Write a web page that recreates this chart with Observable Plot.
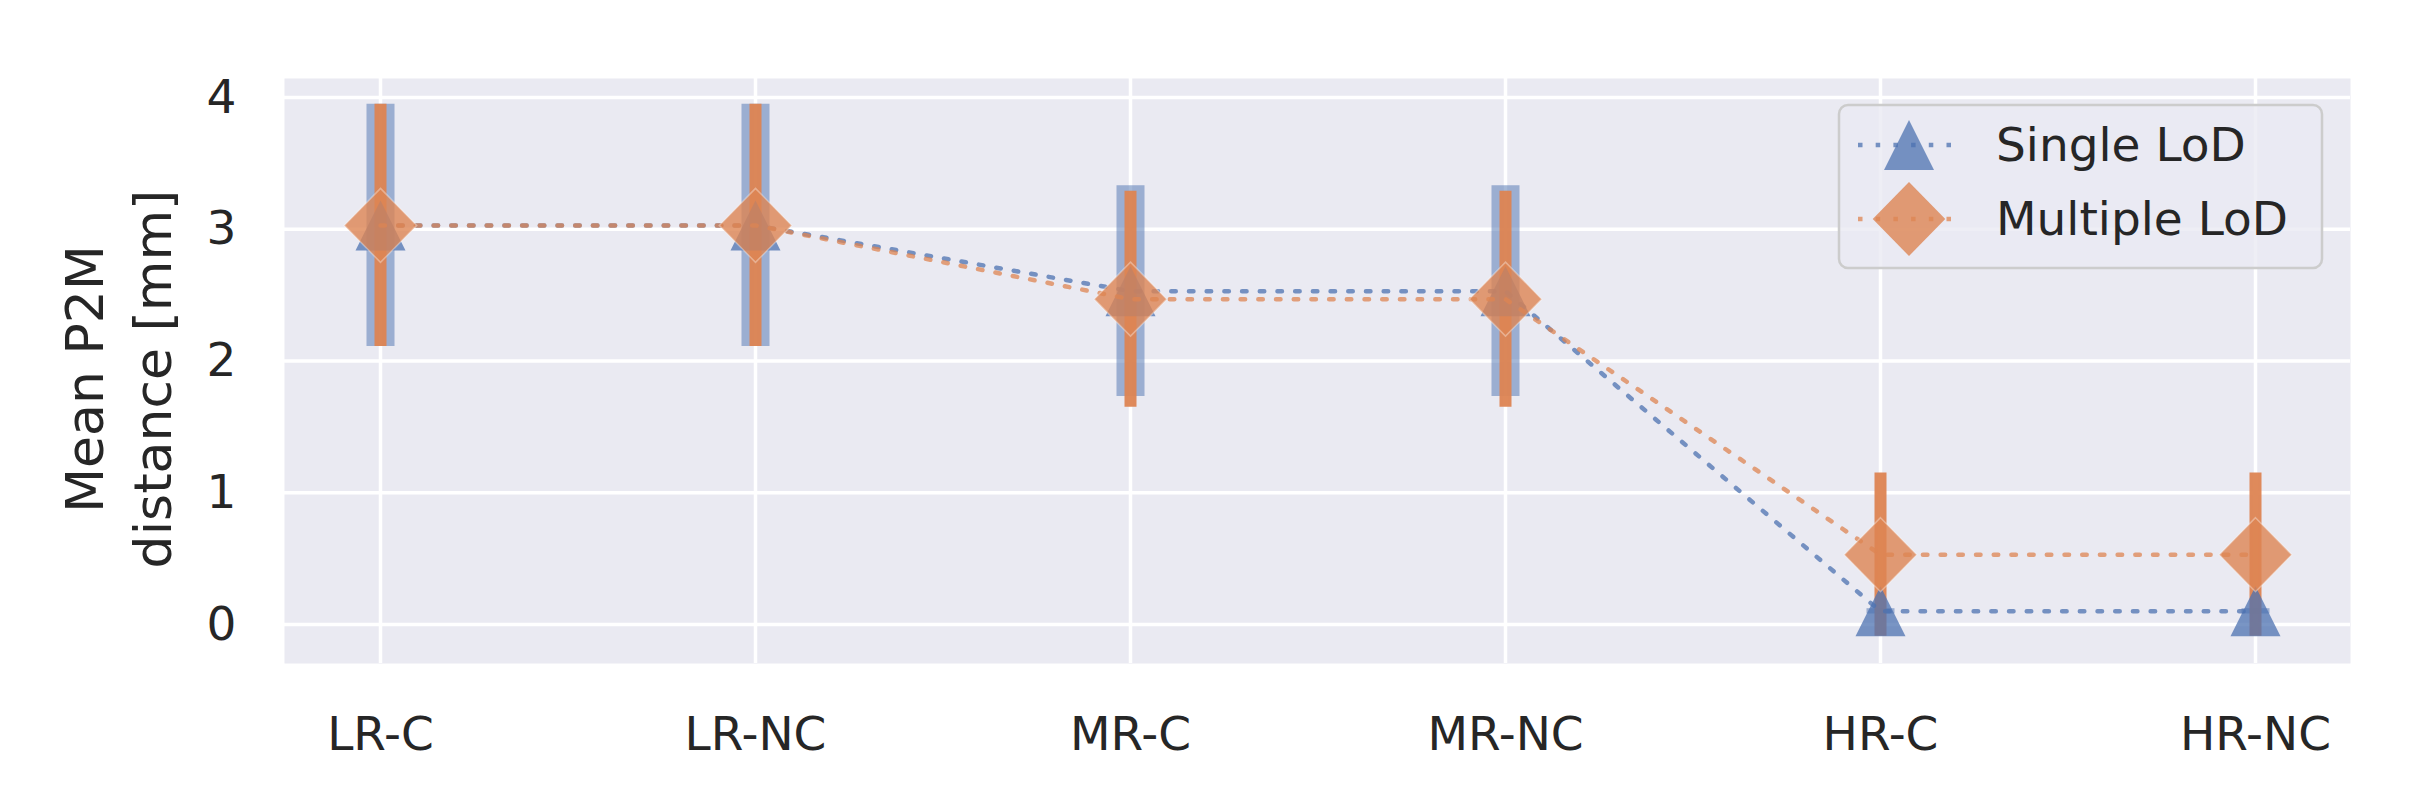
<!DOCTYPE html>
<html>
<head>
<meta charset="utf-8">
<script src="https://cdn.jsdelivr.net/npm/d3@7"></script>
<script src="https://cdn.jsdelivr.net/npm/@observablehq/plot@0.6"></script>
<style>
  body { margin: 0; background: #ffffff; }
  #chart svg { display: block; }
</style>
</head>
<body>
<div id="chart"></div>
<script>
// ---- data ----
const categories = ["LR-C", "LR-NC", "MR-C", "MR-NC", "HR-C", "HR-NC"];
const singleMean   = [3.03, 3.03, 2.53, 2.53, 0.10, 0.10];
const singleErr    = [0.92, 0.92, 0.80, 0.80, 0.02, 0.02];
const multipleMean = [3.03, 3.03, 2.47, 2.47, 0.53, 0.53];
const multipleErr  = [0.92, 0.92, 0.82, 0.82, 0.62, 0.62];
const yTicks = [0, 1, 2, 3, 4];
const seriesNames = ["Single LoD", "Multiple LoD"];
const yLabel = "Mean P2M\ndistance [mm]";

const colors = ["#4C72B0", "#DD8452"];

const single = categories.map((c, i) => ({cat: c, mean: singleMean[i], lo: singleMean[i] - singleErr[i], hi: singleMean[i] + singleErr[i]}));
const multiple = categories.map((c, i) => ({cat: c, mean: multipleMean[i], lo: multipleMean[i] - multipleErr[i], hi: multipleMean[i] + multipleErr[i]}));

// matplotlib-like markers
const triangle = {draw(ctx, size) { const r = Math.sqrt(size / Math.PI); ctx.moveTo(0, -r); ctx.lineTo(r, r); ctx.lineTo(-r, r); ctx.closePath(); }};
const diamond = {draw(ctx, size) { const r = Math.sqrt(size / Math.PI); ctx.moveTo(0, -r); ctx.lineTo(r * 0.98, 0); ctx.lineTo(0, r); ctx.lineTo(-r * 0.98, 0); ctx.closePath(); }};

const W = 2416, H = 808;
const mL = 284, mR = 66, mT = 78, mB = 145;
const dash = "4.5 13.2";

const svg = Plot.plot({
  width: W,
  height: H,
  marginLeft: mL,
  marginRight: mR,
  marginTop: mT,
  marginBottom: mB,
  style: {fontFamily: "DejaVu Sans", background: "#ffffff", color: "#262626", overflow: "visible"},
  x: {type: "point", domain: categories, padding: 0.25, align: 0.5, axis: null},
  y: {domain: [-0.296, 4.145], axis: null},
  marks: [
    Plot.frame({fill: "#EAEAF2", stroke: null}),
    Plot.gridY(yTicks, {stroke: "#ffffff", strokeOpacity: 1, strokeWidth: 3.5}),
    Plot.gridX(categories, {stroke: "#ffffff", strokeOpacity: 1, strokeWidth: 3.5}),
    Plot.axisY(yTicks, {tickSize: 0, tickPadding: 48, fontSize: 47, label: null, fill: "#262626", tickFormat: d => String(d)}),
    Plot.axisX(categories, {tickSize: 0, tickPadding: 53, fontSize: 47, label: null, fill: "#262626"}),
    Plot.ruleX(single, {x: "cat", y1: "lo", y2: "hi", stroke: colors[0], strokeOpacity: 0.5, strokeWidth: 28}),
    Plot.ruleX(multiple, {x: "cat", y1: "lo", y2: "hi", stroke: colors[1], strokeOpacity: 0.95, strokeWidth: 12}),
    Plot.line(single, {x: "cat", y: "mean", stroke: colors[0], strokeWidth: 4.5, strokeDasharray: dash, strokeOpacity: 0.75}),
    Plot.dot(single, {x: "cat", y: "mean", symbol: triangle, r: 25, fill: colors[0], fillOpacity: 0.75, stroke: null}),
    Plot.line(multiple, {x: "cat", y: "mean", stroke: colors[1], strokeWidth: 4.5, strokeDasharray: dash, strokeOpacity: 0.75}),
    Plot.dot(multiple, {x: "cat", y: "mean", symbol: diamond, r: 37, fill: colors[1], fillOpacity: 0.8, stroke: "#ffffff", strokeOpacity: 0.35, strokeWidth: 1.5}),
    Plot.text([yLabel], {frameAnchor: "left", dx: -169, dy: 8, rotate: -90, fontSize: 52, lineHeight: 1.29, textAnchor: "middle", lineAnchor: "middle", fill: "#262626"})
  ]
});

// ---- legend (top-right inside the axes) ----
const lg = d3.select(svg).append("g").attr("class", "legend").attr("text-anchor", "start");
const lx0 = 1839, ly0 = 105, lw = 483, lh = 163;
lg.append("rect").attr("x", lx0).attr("y", ly0).attr("width", lw).attr("height", lh)
  .attr("rx", 9).attr("fill", "#EAEAF2").attr("fill-opacity", 0.8)
  .attr("stroke", "#cccccc").attr("stroke-width", 2.5);
const symGen = [d3.symbol(triangle, Math.PI * 25 * 25), d3.symbol(diamond, Math.PI * 37 * 37)];
const rowY = [145, 219];
seriesNames.forEach((name, i) => {
  const y = rowY[i];
  lg.append("line").attr("x1", 1858).attr("x2", 1958).attr("y1", y).attr("y2", y)
    .attr("stroke", colors[i]).attr("stroke-width", 4.5).attr("stroke-dasharray", dash).attr("stroke-opacity", 0.75);
  lg.append("path").attr("d", symGen[i]()).attr("transform", `translate(1909,${y})`)
    .attr("fill", colors[i]).attr("fill-opacity", i === 0 ? 0.75 : 0.8);
  lg.append("text").attr("x", 1996).attr("y", y + 16).attr("font-size", 47)
    .attr("text-anchor", "start")
    .attr("fill", "#262626").attr("font-family", "DejaVu Sans").text(name);
});

document.getElementById("chart").appendChild(svg);
</script>
</body>
</html>
